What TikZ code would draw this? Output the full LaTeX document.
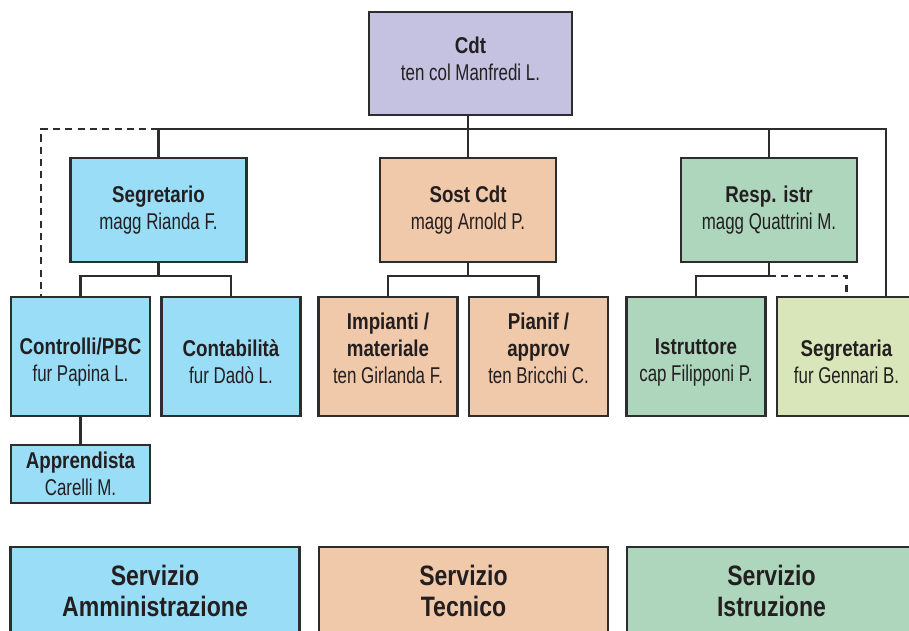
\documentclass[tikz,border=0pt]{standalone}
\usepackage{fontspec}
\setmainfont{Liberation Sans}[UprightFeatures={FakeStretch=0.74},BoldFeatures={FakeStretch=0.82}]
\definecolor{linea}{RGB}{45,45,45}
\definecolor{testo}{RGB}{35,31,32}
\definecolor{lilla}{RGB}{196,194,224}
\definecolor{azzurro}{RGB}{153,221,247}
\definecolor{pesca}{RGB}{240,200,170}
\definecolor{verde}{RGB}{174,214,189}
\definecolor{verdino}{RGB}{217,230,185}

\begin{document}
\begin{tikzpicture}[
    x=0.02cm, y=-0.02cm,
    % Riquadri comuni
    box/.style={
        draw=linea, line width=1.6pt, text=testo,
        font=\fontsize{13}{15.5}\selectfont, align=center, inner sep=2pt
    },
    % Comandante
    boxcdt/.style={box, fill=lilla, minimum width=4.06cm, minimum height=2.06cm},
    % Primo livello
    boxliv/.style={box, minimum width=3.52cm, minimum height=2.08cm},
    % Secondo livello
    boxsub/.style={box, minimum width=2.78cm, minimum height=2.38cm},
    % Servizi (in basso)
    boxserv/.style={
        box, minimum width=5.78cm, minimum height=1.74cm,
        font=\fontsize{16}{17.6}\selectfont\bfseries
    },
    conn/.style={draw=linea, line width=1.6pt},
    conntr/.style={conn, dash pattern=on 4pt off 3pt}
]
\clip (0,0) rectangle (909,631);

% ---- COMANDANTE ----
\node[boxcdt] (cdt) at (470.5, 63.5) {\textbf{Cdt}\\ten col Manfredi L.\rule[-0.2cm]{0pt}{0pt}};

% ---- PRIMO LIVELLO ----
\node[boxliv, fill=azzurro] (segr) at (158.5, 210) {\textbf{Segretario}\\magg Rianda F.};
\node[boxliv, fill=pesca]   (sost) at (468, 210)   {\textbf{Sost Cdt}\\magg Arnold P.};
\node[boxliv, fill=verde]   (resp) at (769, 210)   {\textbf{Resp. istr}\\magg Quattrini M.};

% ---- SECONDO LIVELLO ----
\node[boxsub, fill=azzurro] (contr)  at (80.5, 356.5)  {{}\\\textbf{Controlli/PBC}\\fur Papina L.};
\node[boxsub, fill=azzurro] (contab) at (231, 356.5)   {{}\\\textbf{Contabilità}\\fur Dadò L.};
\node[boxsub, fill=pesca]   (imp)    at (388, 356.5)   {\smash{\textbf{Impianti /}}\\\textbf{materiale}\\ten Girlanda F.};
\node[boxsub, fill=pesca]   (pian)   at (538.5, 356.5) {\smash{\textbf{Pianif /}}\\\textbf{approv}\\ten Bricchi C.};
\node[boxsub, fill=verde]   (istr)   at (696, 356.5)   {{}\\\textbf{Istruttore}\\cap Filipponi P.};
\node[boxsub, fill=verdino] (segria) at (846.5, 356.5) {{}\\\textbf{Segretaria}\\fur Gennari B.};

\node[boxsub, fill=azzurro, minimum height=1.16cm] (appr) at (80.5, 474) {\textbf{Apprendista}\\Carelli M.};

% ---- SERVIZI ----
\node[boxserv, fill=azzurro] (s_amm) at (155, 590.5)   {Servizio\\Amministrazione};
\node[boxserv, fill=pesca]   (s_tec) at (463.5, 590.5) {Servizio\\Tecnico};
\node[boxserv, fill=verde]   (s_ist) at (771.5, 590.5) {Servizio\\Istruzione};

% ---- COLLEGAMENTI ----
\coordinate (bus)  at (468, 129);
\coordinate (dx)   at (886, 129);
\coordinate (sx)   at (41, 129);
\draw[conn] (cdt.south -| bus) -- (sost.north);
\draw[conn] (segr.north) |- (dx) -- (dx |- segria.north);
\draw[conn] (resp.north) -- (resp.north |- bus);
\draw[conntr] (segr.north |- bus) -- (sx) -- (sx |- contr.north);

\coordinate (bif_segr) at (158.5, 276);
\draw[conn] (segr.south) -- (bif_segr);
\draw[conn] (bif_segr) -| (contr.north);
\draw[conn] (bif_segr) -| (contab.north);

\coordinate (bif_sost) at (468, 276);
\draw[conn] (sost.south) -- (bif_sost);
\draw[conn] (bif_sost) -| (imp.north);
\draw[conn] (bif_sost) -| (pian.north);

\coordinate (bif_resp) at (769, 276);
\draw[conn]   (resp.south) -- (bif_resp);
\draw[conn]   (bif_resp) -| (istr.north);
\draw[conntr] (bif_resp) -| (segria.north);

\draw[conn] (contr.south) -- (appr.north);

\end{tikzpicture}
\end{document}
